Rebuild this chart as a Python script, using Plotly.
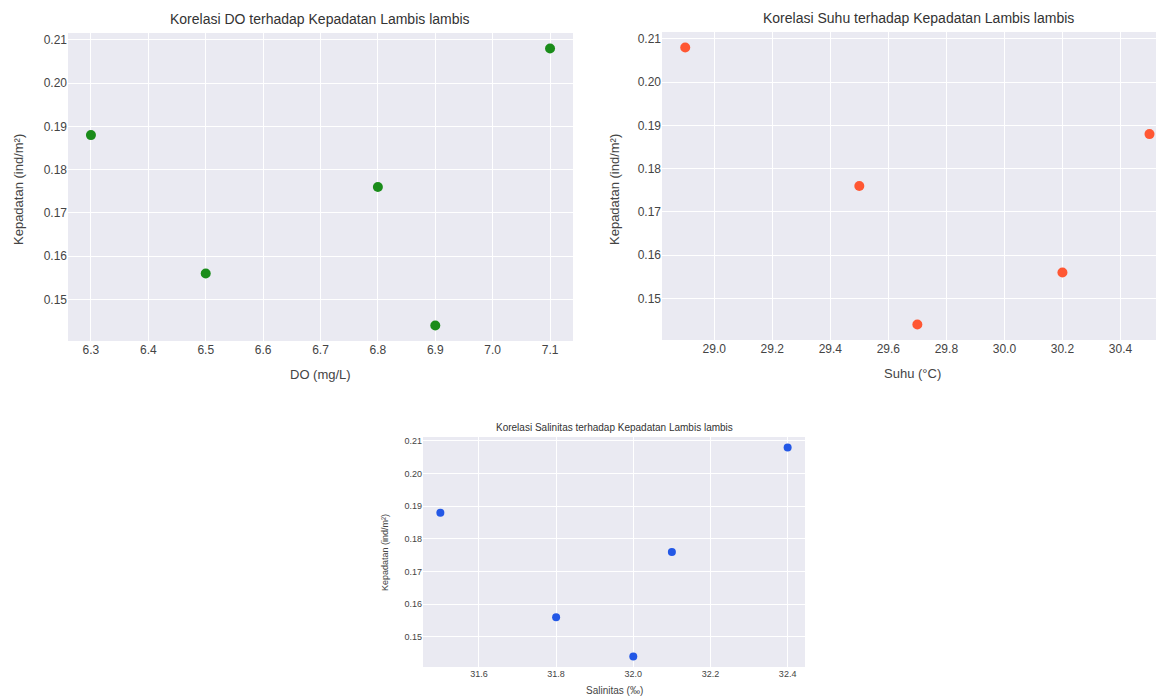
import plotly.graph_objects as go

# Data
do_vals = [6.3, 6.5, 6.8, 6.9, 7.1]
do_dens = [0.188, 0.156, 0.176, 0.144, 0.208]
suhu_vals = [28.9, 29.5, 29.7, 30.2, 30.5]
suhu_dens = [0.208, 0.176, 0.144, 0.156, 0.188]
sal_vals = [31.5, 31.8, 32.0, 32.1, 32.4]
sal_dens = [0.188, 0.156, 0.144, 0.176, 0.208]
y_ticks = [0.15, 0.16, 0.17, 0.18, 0.19, 0.20, 0.21]

OFF = 8  # page body margin
W, H = 1164 - OFF, 699 - OFF
FONT = "Liberation Sans, Arial, sans-serif"
TXT = "#444444"
BG = "#EAEAF2"

def px(x):
    return (x - OFF) / W

def py(y):
    return 1 - (y - OFF) / H

fig = go.Figure()
fig.add_trace(go.Scatter(x=do_vals, y=do_dens, mode="markers",
                         marker=dict(color="#1a8c1a", size=10), xaxis="x", yaxis="y", showlegend=False))
fig.add_trace(go.Scatter(x=suhu_vals, y=suhu_dens, mode="markers", cliponaxis=False,
                         marker=dict(color="#FF5733", size=10), xaxis="x2", yaxis="y2", showlegend=False))
fig.add_trace(go.Scatter(x=sal_vals, y=sal_dens, mode="markers",
                         marker=dict(color="#2358E6", size=8), xaxis="x3", yaxis="y3", showlegend=False))

def ax(domain, rng, dtick, fmt, anchor, fs, tickvals=None):
    d = dict(domain=domain, range=rng, anchor=anchor, showgrid=True, gridcolor="white",
             gridwidth=1.3, zeroline=False, showline=False, ticks="",
             tickfont=dict(family=FONT, size=fs, color=TXT), tickformat=fmt)
    if tickvals is not None:
        d.update(tickmode="array", tickvals=tickvals)
    else:
        d.update(tick0=0, dtick=dtick)
    return d

fig.update_layout(
    width=W, height=H, margin=dict(l=0, r=0, t=0, b=0),
    paper_bgcolor="white", plot_bgcolor=BG,
    xaxis=ax([px(68), px(573)], [6.26, 7.14], 0.1, ".1f", "y", 12),
    yaxis=ax([py(341), py(33)], [0.1404, 0.2116], None, ".2f", "x", 12, y_ticks),
    xaxis2=ax([px(662), 1.0], [28.82, 30.55], 0.2, ".1f", "y2", 12),
    yaxis2=ax([py(340), py(32)], [0.1404, 0.2116], None, ".2f", "x2", 12, y_ticks),
    xaxis3=ax([px(423), px(805)], [31.455, 32.445], 0.2, ".1f", "y3", 9),
    yaxis3=ax([py(667), py(437)], [0.1408, 0.2112], None, ".2f", "x3", 9, y_ticks),
)

def text(x, y, s, size, angle=0, color=TXT):
    fig.add_annotation(x=px(x), y=py(y), xref="paper", yref="paper", text=s, showarrow=False,
                       textangle=angle, xanchor="center", yanchor="middle",
                       font=dict(family=FONT, size=size, color=color))

text(320, 19, "Korelasi DO terhadap Kepadatan Lambis lambis", 14, color="#333333")
text(918, 18, "Korelasi Suhu terhadap Kepadatan Lambis lambis", 14, color="#333333")
text(614, 427, "Korelasi Salinitas terhadap Kepadatan Lambis lambis", 10, color="#333333")
text(320, 374, "DO (mg/L)", 13)
text(912, 373, "Suhu (°C)", 13)
text(614, 690, "Salinitas (‰)", 10)
text(18, 190, "Kepadatan (ind/m²)", 13, angle=-90)
text(614, 190, "Kepadatan (ind/m²)", 13, angle=-90)
text(385, 553, "Kepadatan (ind/m²)", 9, angle=-90)

fig.write_html("out.html")
